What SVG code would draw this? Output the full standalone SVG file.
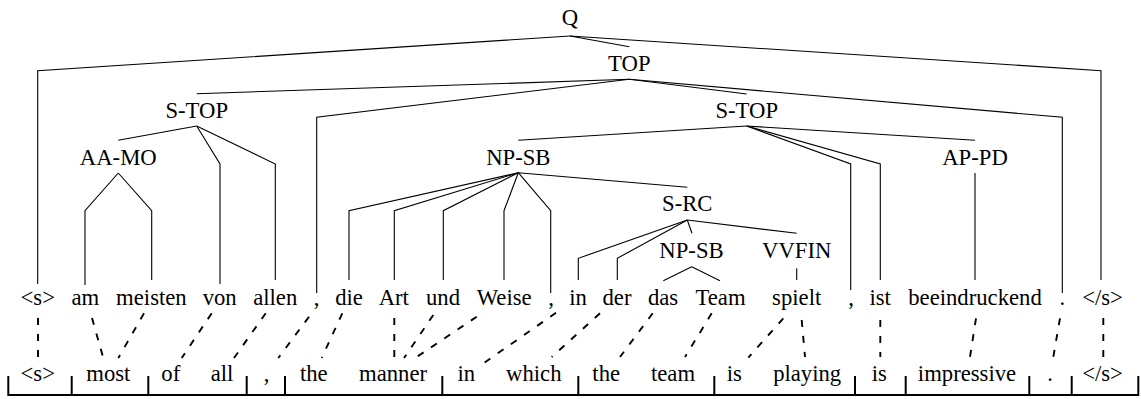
<svg xmlns="http://www.w3.org/2000/svg" width="1141" height="399" viewBox="0 0 1141 399" font-family="'Liberation Serif', 'Times New Roman', serif">
<style>
text{font-family:'Liberation Serif','Times New Roman',serif;font-size:22.7px;fill:#000;text-anchor:middle}
.e{fill:none;stroke:#000;stroke-width:1.1}
.d{fill:none;stroke:#000;stroke-width:1.9;stroke-dasharray:7 9}
.b{fill:none;stroke:#000;stroke-width:2}
</style>
<rect width="1141" height="399" fill="#fff"/>
<g id="connectors">
<polyline class="e" points="570,36 37.7,70.7 37.7,284"/>
<polyline class="e" points="570,36 629.3,46.7"/>
<polyline class="e" points="570,36 1101,70.7 1101,280"/>
<polyline class="e" points="629.3,79.3 196.7,93.7"/>
<polyline class="e" points="629.3,79.3 316.7,117.3 316.7,293"/>
<polyline class="e" points="629.3,79.3 746.7,94"/>
<polyline class="e" points="629.3,79.3 1062.3,117.3 1062.3,293"/>
<polyline class="e" points="196.7,126 118.3,140.3"/>
<polyline class="e" points="196.7,126 220,164 220,284"/>
<polyline class="e" points="196.7,126 275.3,164 275.3,280"/>
<polyline class="e" points="746.7,126 518.3,140.3"/>
<polyline class="e" points="746.7,126 850.7,164 850.7,290"/>
<polyline class="e" points="746.7,126 880.3,164 880.3,280"/>
<polyline class="e" points="746.7,126 975,140.3"/>
<polyline class="e" points="118.3,173 85,210.7 85,285"/>
<polyline class="e" points="118.3,173 151.7,210.7 151.7,280"/>
<polyline class="e" points="975,173 975,280"/>
<polyline class="e" points="518.3,172.7 349,210.7 349,280"/>
<polyline class="e" points="518.3,172.7 394.3,210.7 394.3,280"/>
<polyline class="e" points="518.3,172.7 443.3,210.7 443.3,280"/>
<polyline class="e" points="518.3,172.7 504,210.7 504,280"/>
<polyline class="e" points="518.3,172.7 550.7,210.7 550.7,293"/>
<polyline class="e" points="518.3,172.7 687.3,187.3"/>
<polyline class="e" points="687.3,220 578.3,258.3 578.3,280"/>
<polyline class="e" points="687.3,220 617.3,258.3 617.3,280"/>
<polyline class="e" points="687.3,220 692,233.3"/>
<polyline class="e" points="687.3,220 796.7,233.3"/>
<polyline class="e" points="691.7,266.7 663.3,280.7"/>
<polyline class="e" points="691.7,266.7 720,280.7"/>
<polyline class="e" points="796.7,268.3 796.7,280"/>
<line class="d" x1="38" y1="318" x2="38" y2="358"/>
<line class="d" x1="92" y1="318" x2="103.3" y2="358"/>
<line class="d" x1="144" y1="313.3" x2="118.3" y2="358"/>
<line class="d" x1="211.7" y1="313.3" x2="181.7" y2="358"/>
<line class="d" x1="265.7" y1="313.3" x2="234" y2="358"/>
<line class="d" x1="309" y1="316.7" x2="278.3" y2="358"/>
<line class="d" x1="342.3" y1="313.3" x2="321.7" y2="358"/>
<line class="d" x1="394.3" y1="318" x2="394.3" y2="358"/>
<line class="d" x1="433.3" y1="315" x2="404" y2="358"/>
<line class="d" x1="476.7" y1="316.7" x2="416.7" y2="357"/>
<line class="d" x1="556" y1="312.7" x2="484.3" y2="362.7"/>
<line class="d" x1="600" y1="313.3" x2="551.7" y2="357"/>
<line class="d" x1="652.7" y1="313.3" x2="620" y2="357"/>
<line class="d" x1="711.7" y1="313.3" x2="685" y2="357"/>
<line class="d" x1="783.3" y1="318.3" x2="748.3" y2="357.7"/>
<line class="d" x1="801.7" y1="320" x2="805" y2="357"/>
<line class="d" x1="880.3" y1="320" x2="880.3" y2="357"/>
<line class="d" x1="976" y1="318.3" x2="970" y2="357"/>
<line class="d" x1="1060" y1="318.3" x2="1053.3" y2="357"/>
<line class="d" x1="1103.3" y1="318" x2="1103.3" y2="357"/>
</g>
<g id="brackets">
<polyline class="b" points="8.3,376 8.3,395 1138.3,395 1138.3,376"/>
<line class="b" x1="71.7" y1="376" x2="71.7" y2="395"/>
<line class="b" x1="148.3" y1="376" x2="148.3" y2="395"/>
<line class="b" x1="246.7" y1="376" x2="246.7" y2="395"/>
<line class="b" x1="285" y1="376" x2="285" y2="395"/>
<line class="b" x1="442.3" y1="376" x2="442.3" y2="395"/>
<line class="b" x1="578.3" y1="376" x2="578.3" y2="395"/>
<line class="b" x1="714.3" y1="376" x2="714.3" y2="395"/>
<line class="b" x1="855" y1="376" x2="855" y2="395"/>
<line class="b" x1="905.7" y1="376" x2="905.7" y2="395"/>
<line class="b" x1="1029.3" y1="376" x2="1029.3" y2="395"/>
<line class="b" x1="1071.7" y1="376" x2="1071.7" y2="395"/>
</g>
<g id="n-Q"><text x="570" y="24.6">Q</text></g>
<g id="n-TOP"><text x="629.3" y="71.3">TOP</text></g>
<g id="n-STOP1"><text x="196.7" y="118">S-TOP</text></g>
<g id="n-STOP2"><text x="746.7" y="118">S-TOP</text></g>
<g id="n-AAMO"><text x="118.3" y="164.7">AA-MO</text></g>
<g id="n-NPSB1"><text x="518.3" y="164.7">NP-SB</text></g>
<g id="n-APPD"><text x="975" y="164.7">AP-PD</text></g>
<g id="n-SRC"><text x="687.3" y="211.4">S-RC</text></g>
<g id="n-NPSB2"><text x="691.5" y="258.1">NP-SB</text></g>
<g id="n-VVFIN"><text x="796.7" y="258.1">VVFIN</text></g>
<g id="src-tokens">
<g id="s1"><text x="37.8" y="304.5">&lt;s&gt;</text></g>
<g id="s2"><text x="85.3" y="304.5">am</text></g>
<g id="s3"><text x="151.4" y="304.5">meisten</text></g>
<g id="s4"><text x="219.7" y="304.5">von</text></g>
<g id="s5"><text x="275.2" y="304.5">allen</text></g>
<g id="s6"><text x="316.5" y="304.5">,</text></g>
<g id="s7"><text x="349" y="304.5">die</text></g>
<g id="s8"><text x="393.8" y="304.5">Art</text></g>
<g id="s9"><text x="443" y="304.5">und</text></g>
<g id="s10"><text x="504.2" y="304.5">Weise</text></g>
<g id="s11"><text x="551" y="304.5">,</text></g>
<g id="s12"><text x="578" y="304.5">in</text></g>
<g id="s13"><text x="617" y="304.5">der</text></g>
<g id="s14"><text x="663" y="304.5">das</text></g>
<g id="s15"><text x="720.5" y="304.5">Team</text></g>
<g id="s16"><text x="796.7" y="304.5">spielt</text></g>
<g id="s17"><text x="851" y="304.5">,</text></g>
<g id="s18"><text x="880.2" y="304.5">ist</text></g>
<g id="s19"><text x="975" y="304.5">beeindruckend</text></g>
<g id="s20"><text x="1062.3" y="304.5">.</text></g>
<g id="s21"><text x="1102.5" y="304.5">&lt;/s&gt;</text></g>
</g>
<g id="tgt-tokens">
<g id="t1"><text x="37.8" y="380.5">&lt;s&gt;</text></g>
<g id="t2"><text x="108.3" y="380.5">most</text></g>
<g id="t3"><text x="170.8" y="380.5">of</text></g>
<g id="t4"><text x="222" y="380.5">all</text></g>
<g id="t5"><text x="266.5" y="380.5">,</text></g>
<g id="t6"><text x="313.8" y="380.5">the</text></g>
<g id="t7"><text x="393" y="380.5">manner</text></g>
<g id="t8"><text x="466.3" y="380.5">in</text></g>
<g id="t9"><text x="533.8" y="380.5">which</text></g>
<g id="t10"><text x="606.2" y="380.5">the</text></g>
<g id="t11"><text x="673" y="380.5">team</text></g>
<g id="t12"><text x="734.2" y="380.5">is</text></g>
<g id="t13"><text x="807.2" y="380.5">playing</text></g>
<g id="t14"><text x="879.2" y="380.5">is</text></g>
<g id="t15"><text x="967" y="380.5">impressive</text></g>
<g id="t16"><text x="1050" y="380.5">.</text></g>
<g id="t17"><text x="1102.5" y="380.5">&lt;/s&gt;</text></g>
</g>
</svg>
